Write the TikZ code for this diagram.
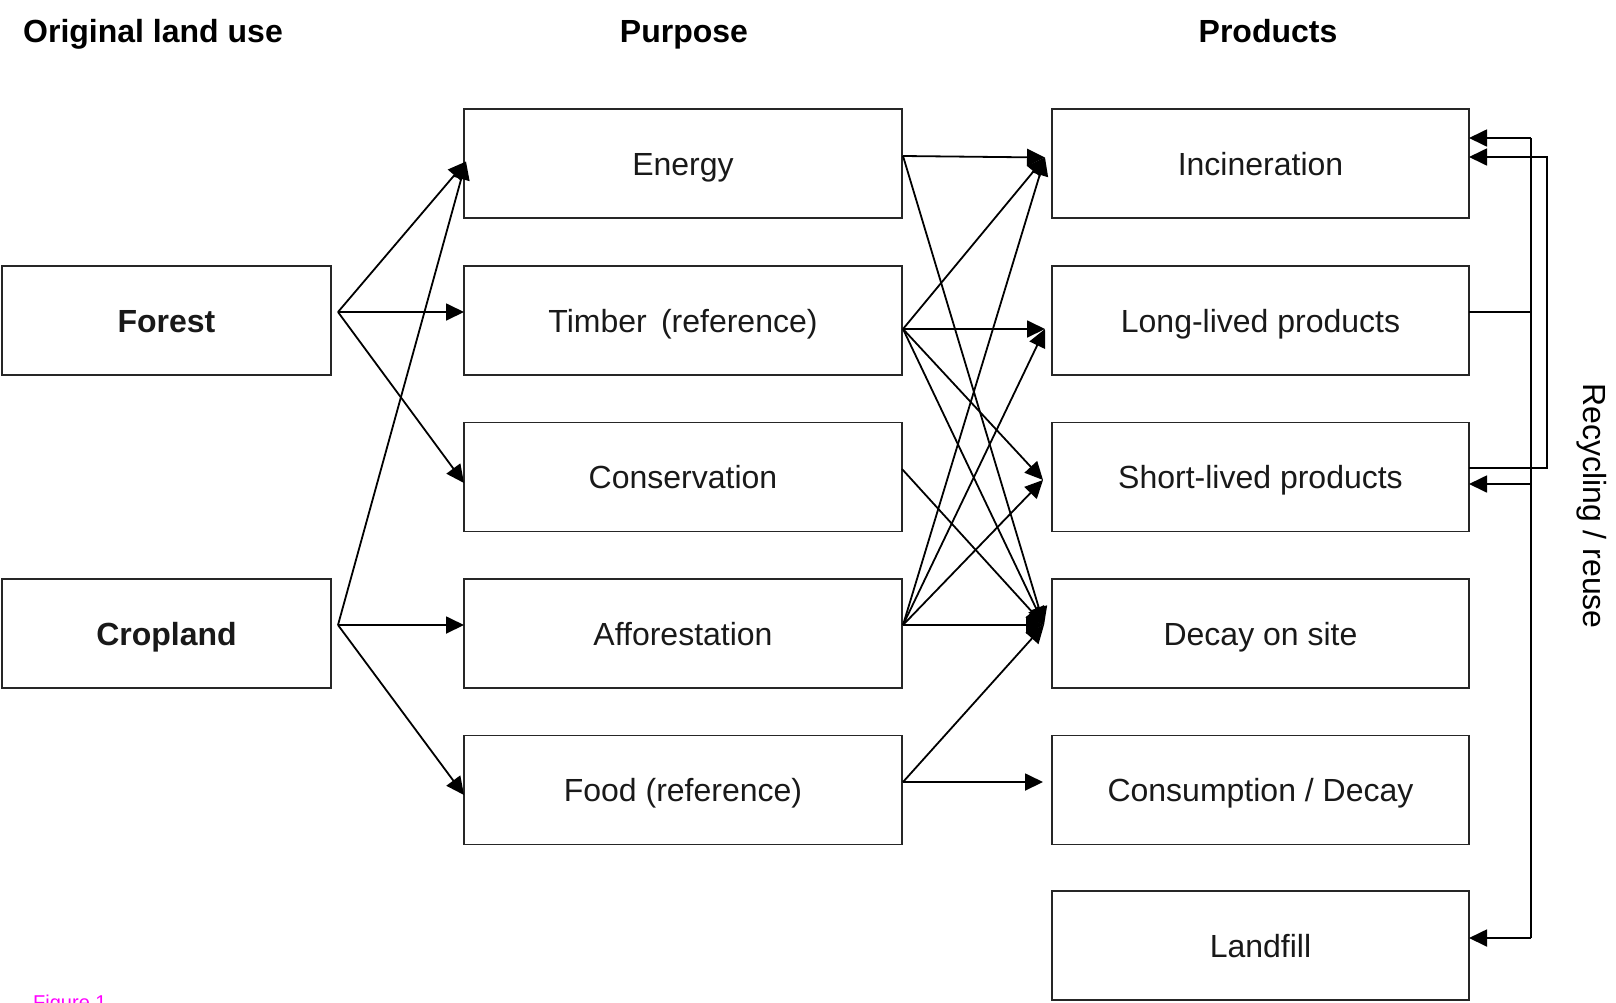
\documentclass[tikz,border=0pt]{standalone}
\usepackage{fontspec}
\setmainfont{Liberation Sans}
\usetikzlibrary{arrows.meta}
\usetikzlibrary{calc}
\definecolor{figmagenta}{RGB}{255,0,255}
\tikzset{
	box/.style={draw=black!85, line width=1.6pt, inner sep=0pt, outer sep=0pt,
		text=black!90, text height=23pt, text depth=0pt, font=\fontsize{32}{38}\selectfont},
	landbox/.style={box, minimum width=329pt, minimum height=109pt, font=\fontsize{32}{38}\selectfont\bfseries},
	purposebox/.style={box, minimum width=438pt, minimum height=109pt},
	productbox/.style={box, minimum width=417pt, minimum height=109pt},
	header/.style={inner sep=0pt, font=\fontsize{32}{38}\selectfont\bfseries},
	flowline/.style={line width=1.8pt, line join=miter},
	flowarrow/.style={flowline, -{Triangle[length=18pt,width=17pt]}}
}
\newcommand{\flow}[2] % from, to
{
	\draw[flowarrow] (#1) -- (#2);
}

\begin{document}
\begin{tikzpicture}[x=1pt, y=-1pt]
	% page: 1616 x 1002, y counted downwards
	\useasboundingbox (0,0) rectangle (1616,1002);

	% column titles
	\node[header, anchor=base west] (hland) at (23,42) {Original land use};
	\node[header, anchor=base] (hpurpose) at (684,42) {Purpose};
	\node[header, anchor=base] (hproducts) at (1268,42) {Products};

	% original land use
	\node[landbox] (forest) at (166.5,320.5) {Forest};
	\node[landbox] (cropland) at (166.5,633.5) {Cropland};

	% purpose
	\node[purposebox] (energy) at (683,163.5) {Energy};
	\node[purposebox] (timber) at (683,320.5) {Timber \,(reference)};
	\node[purposebox] (conservation) at (683,477) {Conservation};
	\node[purposebox] (afforestation) at (683,633.5) {Afforestation};
	\node[purposebox] (food) at (683,790) {Food (reference)};

	% products
	\node[productbox] (incineration) at (1260.5,163.5) {Incineration};
	\node[productbox] (longlived) at (1260.5,320.5) {Long-lived products};
	\node[productbox] (shortlived) at (1260.5,477) {Short-lived products};
	\node[productbox] (decay) at (1260.5,633.5) {Decay on site};
	\node[productbox] (consumption) at (1260.5,790) {Consumption / Decay};
	\node[productbox] (landfill) at (1260.5,945.5) {Landfill};

	% ports
	\coordinate (forest-out) at ($(forest.east)+(7,-8.5)$);
	\coordinate (crop-out) at ($(cropland.east)+(7,-8.5)$);
	\coordinate (energy-in) at ($(energy.west)+(2,-2)$);
	\coordinate (timber-in) at ($(timber.west)+(0,-8.5)$);
	\coordinate (cons-in) at ($(conservation.west)+(0,6)$);
	\coordinate (affor-in) at ($(afforestation.west)+(0,-8.5)$);
	\coordinate (food-in) at ($(food.west)+(0,5)$);

	\coordinate (energy-out) at ($(energy.east)+(1,-7.5)$);
	\coordinate (timber-out) at ($(timber.east)+(1,8.5)$);
	\coordinate (cons-out) at ($(conservation.east)+(0,-8)$);
	\coordinate (affor-out) at ($(afforestation.east)+(1,-8.5)$);
	\coordinate (food-out) at ($(food.east)+(1,-8)$);

	\coordinate (incin-in) at ($(incineration.west)+(-7,-6)$);
	\coordinate (long-in) at ($(longlived.west)+(-7,8.5)$);
	\coordinate (short-in) at ($(shortlived.west)+(-9,3)$);
	\coordinate (decay-in) at ($(decay.west)+(-8,-8.5)$);
	\coordinate (consum-in) at ($(consumption.west)+(-9,-8)$);

	% land use -> purpose
	\flow{forest-out}{energy-in}
	\flow{forest-out}{timber-in}
	\flow{forest-out}{cons-in}
	\flow{crop-out}{energy-in}
	\flow{crop-out}{affor-in}
	\flow{crop-out}{food-in}

	% purpose -> products
	\flow{energy-out}{incin-in}
	\flow{energy-out}{decay-in}
	\flow{timber-out}{incin-in}
	\flow{timber-out}{long-in}
	\flow{timber-out}{short-in}
	\flow{timber-out}{decay-in}
	\flow{cons-out}{decay-in}
	\flow{affor-out}{incin-in}
	\flow{affor-out}{long-in}
	\flow{affor-out}{short-in}
	\flow{affor-out}{decay-in}
	\flow{food-out}{decay-in}
	\flow{food-out}{consum-in}

	% recycling / reuse loop
	\coordinate (loopA) at (1531,0);
	\coordinate (loopB) at (1547,0);
	\coordinate (incin-r1) at ($(incineration.east)+(0,-25.5)$);
	\coordinate (incin-r2) at ($(incineration.east)+(0,-6.5)$);
	\coordinate (long-r) at ($(longlived.east)+(0,-8.5)$);
	\coordinate (short-r1) at ($(shortlived.east)+(0,-9)$);
	\coordinate (short-r2) at ($(shortlived.east)+(0,7)$);
	\coordinate (land-r) at ($(landfill.east)+(0,-7.5)$);

	\draw[flowline] (long-r) -- (long-r -| loopA);
	\draw[flowline] (incin-r1 -| loopA) -- (land-r -| loopA);
	\flow{incin-r1 -| loopA}{incin-r1}
	\flow{short-r2 -| loopA}{short-r2}
	\flow{land-r -| loopA}{land-r}
	\draw[flowarrow] (short-r1) -- (short-r1 -| loopB) |- (incin-r2);

	\node[rotate=-90, inner sep=0pt, font=\fontsize{32}{38}\selectfont] (recycle) at (1592,506) {Recycling / reuse};

	% caption, cut by the page edge
	\node[anchor=base west, inner sep=0pt, text=figmagenta, font=\fontsize{20}{24}\selectfont] (figlabel) at (33,1009) {Figure 1};
\end{tikzpicture}
\end{document}
